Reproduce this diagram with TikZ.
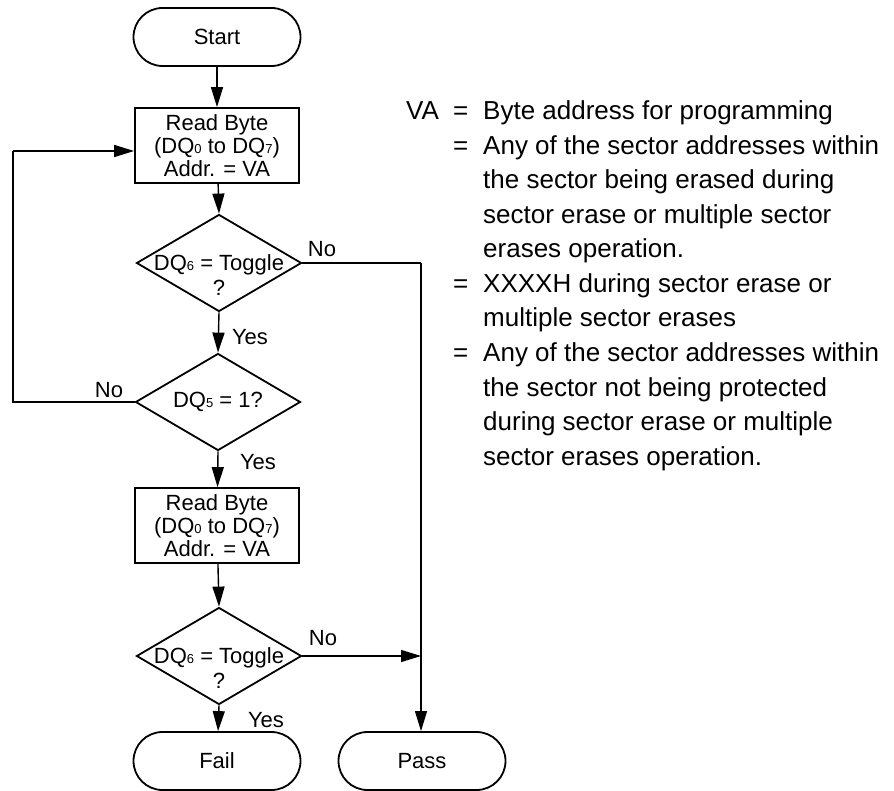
\documentclass[tikz,border=0pt]{standalone}
\usepackage{fontspec}
\setmainfont{Liberation Sans}
\usetikzlibrary{shapes.geometric,arrows.meta,calc}
\newcommand{\dqs}[1]{{\fontsize{13}{13}\selectfont #1}}
\begin{document}
\begin{tikzpicture}[x=1pt,y=-1pt,
  every node/.style={font=\fontsize{22}{23}\selectfont},
  term/.style={draw,line width=1.8pt,rounded corners=29pt,minimum width=167pt,minimum height=58pt,inner sep=0pt},
  proc/.style={draw,line width=1.8pt,minimum width=164pt,minimum height=75pt,inner sep=0pt,align=center},
  dec/.style={draw,line width=1.8pt,diamond,minimum width=165pt,minimum height=97pt,inner sep=0pt},
  dtext/.style={align=center,font=\fontsize{22}{25}\selectfont},
  lbl/.style={inner sep=0pt},
  tip/.style={-{Triangle[length=20pt,width=12pt]}},
  arr/.style={line width=1.4pt,tip},
  conn/.style={line width=1.4pt},
  note/.style={anchor=base west,inner sep=0pt,font=\fontsize{26}{26}\selectfont}]
\useasboundingbox (0,0) rectangle (894,791);

% flowchart nodes
\node[term] (start) at (217,37) {Start};
\node[proc] (rb1) at (217,145.5) {Read Byte\\(DQ\dqs{0} to DQ\dqs{7})\\Addr. = VA};
\node[dec] (d1) at (219,263) {};
\node[dtext] (t1) at ($(d1)+(0,12)$) {DQ\dqs{6} = Toggle\\?};
\node[dec] (d2) at (218,402) {};
\node[dtext] (t2) at (d2) {DQ\dqs{5} = 1?};
\node[proc] (rb2) at (217,525.5) {Read Byte\\(DQ\dqs{0} to DQ\dqs{7})\\Addr. = VA};
\node[dec] (d3) at (219,656) {};
\node[dtext] (t3) at ($(d3)+(0,12)$) {DQ\dqs{6} = Toggle\\?};
\node[term] (fail) at (217,761) {Fail};
\node[term] (pass) at (422,761) {Pass};

\coordinate (rc) at (421,263);
\coordinate (jn) at (421,656);
\coordinate (lc) at (13,151);

% connectors
\draw[arr] (start) -- (rb1);
\draw[arr] (rb1) -- (d1.north);
\draw[arr] (d1.south) -- (d2.north);
\draw[arr] (d2.south) -- (rb2);
\draw[arr] (rb2) -- (d3.north);
\draw[arr] (d3.south) -- (fail);
\draw[conn] (d1.east) -- (rc);
\draw[line width=1.1pt,tip] (rc) -- (pass.north -| rc);
\draw[arr] (d3.east) -- (jn);
\draw[conn] (d2.west) -| (lc);
\draw[arr] (lc) -- (lc -| rb1.west);

% branch labels
\node[lbl] (n1) at (322,249) {No};
\node[lbl] (y1) at (250,337) {Yes};
\node[lbl] (n2) at (109,390) {No};
\node[lbl] (y2) at (258,462) {Yes};
\node[lbl] (n3) at (323,638) {No};
\node[lbl] (y3) at (266,720) {Yes};

% notes
\node[note] (va) at (406,120) {VA};
\node[note] (e1) at (453,120) {=};
\node[note] (e2) at (453,154.5) {=};
\node[note] (e3) at (453,292.5) {=};
\node[note] (e4) at (453,361.5) {=};
\node[note] (l1) at (483,120) {Byte address for programming};
\node[note] (l2) at (483,154.5) {Any of the sector addresses within};
\node[note] (l3) at (483,189) {the sector being erased during};
\node[note] (l4) at (483,223.5) {sector erase or multiple sector};
\node[note] (l5) at (483,258) {erases operation.};
\node[note] (l6) at (483,292.5) {XXXXH during sector erase or};
\node[note] (l7) at (483,327) {multiple sector erases};
\node[note] (l8) at (483,361.5) {Any of the sector addresses within};
\node[note] (l9) at (483,396) {the sector not being protected};
\node[note] (l10) at (483,430.5) {during sector erase or multiple};
\node[note] (l11) at (483,465) {sector erases operation.};
\end{tikzpicture}
\end{document}
